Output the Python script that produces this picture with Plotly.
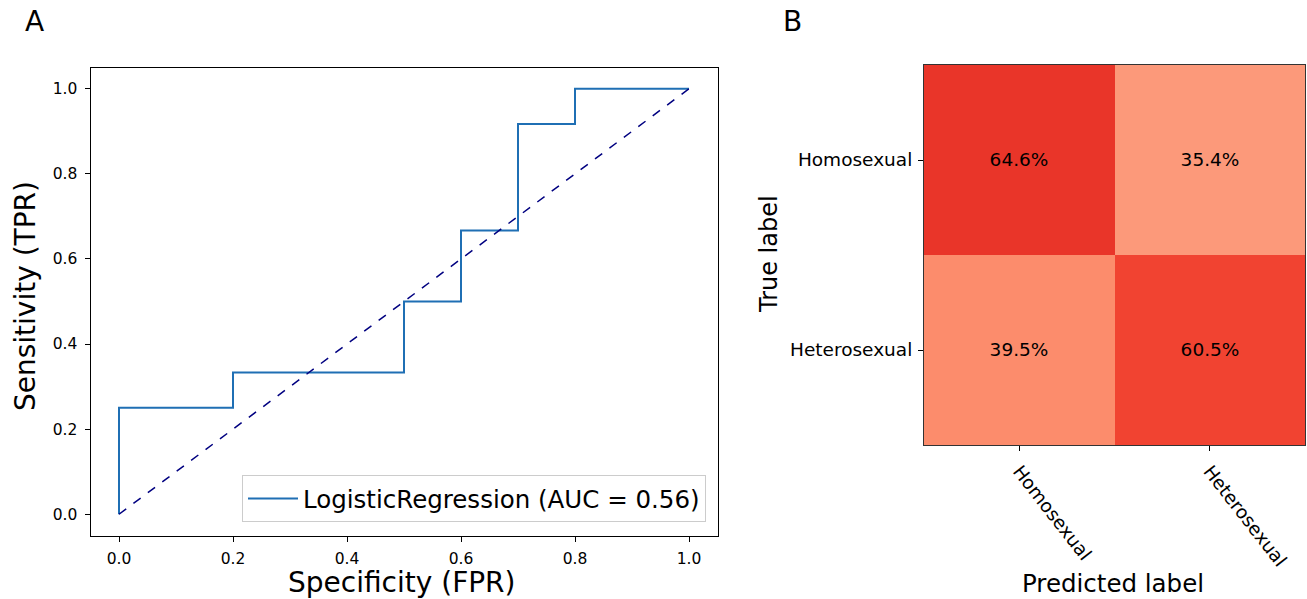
import plotly.graph_objects as go
import plotly.express as px

# ROC data
fpr = [0.0, 0.0, 0.2, 0.2, 0.5, 0.5, 0.6, 0.6, 0.7, 0.7, 0.8, 0.8, 1.0]
tpr = [0.0, 0.25, 0.25, 0.333, 0.333, 0.5, 0.5, 0.667, 0.667, 0.917, 0.917, 1.0, 1.0]
chance = [0.0, 1.0]
roc_label = "LogisticRegression (AUC = 0.56)"
x_ticks = [0.0, 0.2, 0.4, 0.6, 0.8, 1.0]
y_ticks = [0.0, 0.2, 0.4, 0.6, 0.8, 1.0]

# Confusion matrix data
classes = ["Homosexual", "Heterosexual"]
cm = [[0.646, 0.354],
      [0.395, 0.605]]

FONT = "DejaVu Sans"
W, H = 1307, 599

fig = go.Figure()

fig.add_trace(go.Scatter(x=fpr, y=tpr, mode="lines", name=roc_label,
                         line=dict(color="#1f6fb4", width=2), xaxis="x", yaxis="y",
                         showlegend=True))
fig.add_trace(go.Scatter(x=chance, y=chance, mode="lines", showlegend=False,
                         line=dict(color="navy", width=1.5, dash="dash"), xaxis="x", yaxis="y"))

text = [[f"{v*100:.1f}%" for v in row] for row in cm]
fig.add_trace(go.Heatmap(z=cm, x=classes, y=classes, text=text, texttemplate="%{text}",
                         textfont=dict(family=FONT, size=18.5, color="black"),
                         colorscale=px.colors.sequential.Reds, zmin=0, zmax=1,
                         showscale=False, xaxis="x2", yaxis="y2", xgap=0, ygap=0,
                         hoverinfo="skip"))

def px2x(p):
    return p / W

def px2y(p):
    return 1 - p / H

axis_common = dict(showgrid=False, zeroline=False, showline=True, linecolor="black",
                   linewidth=1, mirror=True, ticks="outside", ticklen=5, tickcolor="black",
                   tickfont=dict(family=FONT, size=15.5, color="black"),
                   ticklabelstandoff=4)
cm_axis = {**axis_common, "tickfont": dict(family=FONT, size=18.5, color="black"),
           "linecolor": "#333333", "ticklabelstandoff": 2}

def ann(text, x, y, size, angle=0):
    return dict(text=text, x=px2x(x), y=px2y(y), xref="paper", yref="paper",
                xanchor="center", yanchor="middle", showarrow=False, textangle=angle,
                font=dict(family=FONT, size=size, color="black"))

fig.update_layout(
    width=W, height=H,
    margin=dict(l=0, r=0, t=0, b=0),
    paper_bgcolor="white", plot_bgcolor="white",
    font=dict(family=FONT, color="black"),
    xaxis=dict(domain=[px2x(90.5), px2x(717.5)], range=[-0.05, 1.05], tickvals=x_ticks,
               ticktext=[f"{v:.1f}" for v in x_ticks], anchor="y", **axis_common),
    yaxis=dict(domain=[px2y(535.5), px2y(67.5)], range=[-0.05, 1.05], tickvals=y_ticks,
               ticktext=[f"{v:.1f}" for v in y_ticks], anchor="x", **axis_common),
    xaxis2=dict(domain=[px2x(924), px2x(1305)], anchor="y2", tickangle=52, **cm_axis),
    yaxis2=dict(domain=[px2y(445), px2y(65)], anchor="x2", autorange="reversed", **cm_axis),
    legend=dict(x=px2x(706), y=px2y(522), xanchor="right", yanchor="bottom",
                bgcolor="white", bordercolor="#cccccc", borderwidth=1,
                font=dict(family=FONT, size=24.5, color="black"), itemwidth=50),
    annotations=[
        ann("A", 34, 22, 28),
        ann("B", 792, 22, 28),
        ann("Specificity (FPR)", 402, 582, 28),
        ann("Sensitivity (TPR)", 25, 296, 28, -90),
        ann("Predicted label", 1113, 583, 24.5),
        ann("True label", 769, 254, 24, -90),
    ],
)

fig.write_html("out.html", config={"displayModeBar": False},
               post_script="document.body.style.margin='0';document.body.style.overflow='hidden';")
